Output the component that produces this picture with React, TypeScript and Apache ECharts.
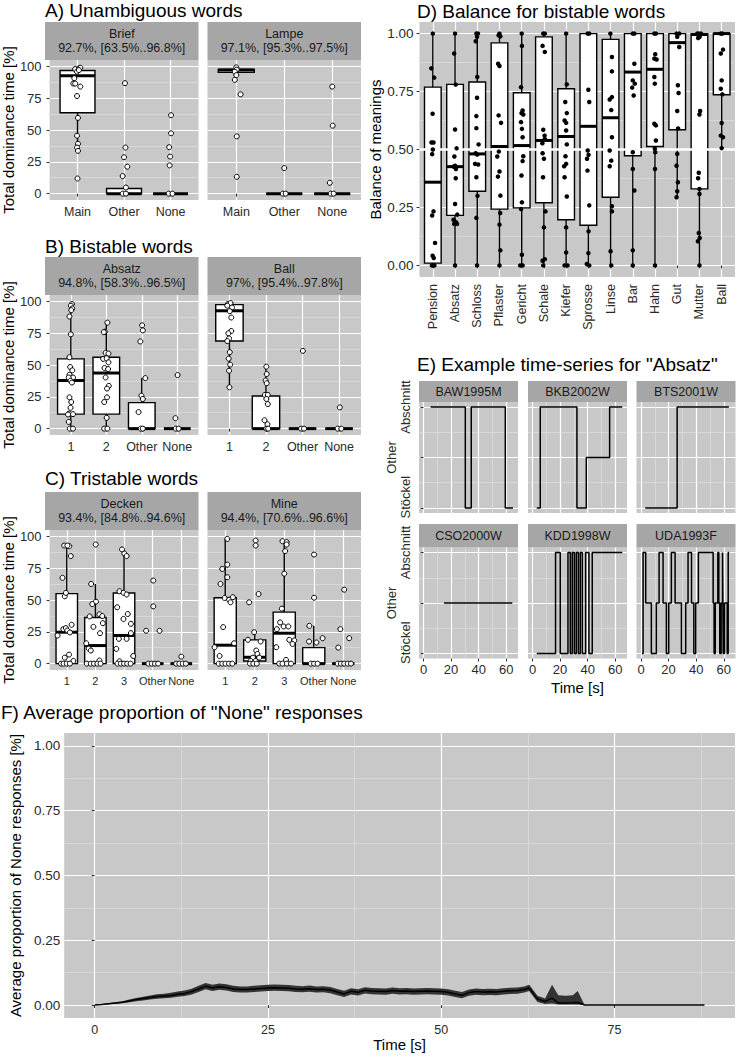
import React, { useEffect, useRef } from 'react';
import * as echarts from 'echarts';

const FONT = "'Liberation Sans', Arial, Helvetica, sans-serif";
const PANEL_BG = '#C8C8C8';
const STRIP_BG = '#A6A6A6';
const MAJOR = '#FFFFFF';
const MINOR = '#DCDCDC';
const TICK_TXT = '#2A2A2A';

// ---------------- Panel A: unambiguous words ----------------
const aCats = ['Main', 'Other', 'None'];
const briefStrip = ['Brief', '92.7%, [63.5%..96.8%]'];
const lampeStrip = ['Lampe', '97.1%, [95.3%..97.5%]'];
// [category, min, q1, median, q3, max]
const briefBoxes = [[1, 33.6, 63.5, 92.7, 96.8, 98.9], [2, 0, 0, 0, 4, 4.8], [3, 0, 0, 0, 0, 0]];
const briefPoints = [[0.95, 97.9], [1.03, 98.4], [1.06, 98.9], [0.99, 95.8], [1.03, 97.1], [0.93, 90.7], [0.91, 86.5], [0.95, 86.5], [1.06, 84.1], [0.99, 76.7], [1.01, 59.5], [0.99, 45.5], [1.01, 39.2], [0.99, 36.2], [1.01, 33.6], [1.0, 11.9],
  [2.02, 86.8], [2.03, 36.2], [2.0, 28.6], [2.07, 21.2], [1.97, 13.8], [2.04, 4.8], [1.97, 0], [2.04, 0],
  [3.01, 61.6], [3.01, 47.4], [2.97, 36.5], [2.99, 29.1], [2.98, 22.2], [2.96, 0], [3.04, 0]];
const lampeBoxes = [[1, 93.1, 95.3, 97.1, 97.5, 99.2], [2, 0, 0, 0, 0, 0], [3, 0, 0, 0, 0, 0]];
const lampePoints = [[1.0, 99.2], [1.01, 97.4], [0.97, 95.8], [1.0, 93.1], [0.97, 89.4], [1.09, 78], [1.01, 45], [1.01, 13.2],
  [2.0, 20.1], [1.97, 0], [2.03, 0],
  [3.0, 84.1], [3.01, 53.4], [2.95, 8.5], [2.97, 0], [3.03, 0]];

// ---------------- Panel B: bistable words ----------------
const bCats = ['1', '2', 'Other', 'None'];
const absatzStrip = ['Absatz', '94.8%, [58.3%..96.5%]'];
const ballStrip = ['Ball', '97%, [95.4%..97.8%]'];
const absatzBoxes = [[1, 0, 11.4, 37.8, 54.8, 97.9], [2, 0, 11.4, 43.7, 56.1, 83.3], [3, 0, 0, 0, 20.4, 39.7], [4, 0, 0, 0, 0, 0]];
const absatzPoints = [[1.03, 97.9], [1.0, 96.6], [1.04, 94.4], [1.01, 93.1], [0.96, 88.1], [1.0, 74.1], [0.96, 56.1], [0.98, 48.4], [1.04, 45.8], [0.96, 42.3], [1.06, 40.2], [0.94, 40.2], [0.99, 37.6], [1.03, 36.2], [0.96, 24.6], [1.01, 20.9], [0.99, 16.4], [0.95, 11.9], [1.06, 11.4], [0.92, 11.1], [0.94, 5.3], [0.97, 0], [1.06, 0],
  [2.03, 83.3], [1.96, 76.2], [1.93, 75.8], [1.98, 59.5], [2.06, 59], [1.91, 54.8], [2.01, 55.3], [2.06, 52.1], [1.95, 47.6], [2.05, 46.8], [1.98, 40.2], [2.07, 33.6], [2.02, 31.5], [2.02, 24.6], [1.94, 20.9], [2.01, 8.5], [1.94, 0], [2.03, 0],
  [3.01, 81.2], [3.03, 77.2], [2.96, 68.5], [3.1, 39.7], [2.99, 25.9], [3.03, 23.3], [2.91, 13], [2.97, 0], [3.03, 0],
  [4.01, 42.1], [3.95, 8.2], [3.96, 0], [4.04, 0]];
const ballBoxes = [[1, 32.5, 68.8, 92.6, 97.4, 98.7], [2, 0, 0, 0, 25.7, 48.7], [3, 0, 0, 0, 0, 0], [4, 0, 0, 0, 0, 0]];
const ballPoints = [[0.96, 97.9], [1.03, 98.7], [0.94, 96.6], [1.07, 95.2], [1.01, 92.3], [1.05, 87.3], [1.05, 76.7], [0.97, 74.9], [0.99, 70.9], [0.94, 68.8], [1.01, 60.1], [0.98, 55], [1.02, 50.3], [0.99, 45.5], [1.0, 32.5],
  [2.01, 48.7], [2.02, 42.9], [1.99, 37.8], [2.02, 35.7], [1.97, 26.5], [2.05, 26.5], [2.01, 23.3], [2.05, 19.3], [1.96, 6.6], [2.04, 3.4], [2.01, 0], [2.06, 0],
  [3.01, 61.1], [2.96, 0], [3.04, 0],
  [4.02, 16.7], [3.96, 0], [4.06, 0]];

// ---------------- Panel C: tristable words ----------------
const cCats = ['1', '2', '3', 'Other', 'None'];
const deckenStrip = ['Decken', '93.4%, [84.8%..94.6%]'];
const mineStrip = ['Mine', '94.4%, [70.6%..96.6%]'];
const deckenBoxes = [[1, 0, 0, 24.7, 55, 92.8], [2, 0, 0, 14.2, 36.3, 62.6], [3, 0, 0, 22.1, 55.5, 89.7], [4, 0, 0, 0, 0, 0], [5, 0, 0, 0, 0, 0]];
const deckenPoints = [[0.91, 92.8], [1.09, 92.3], [1.02, 92.8], [1.14, 84.5], [0.85, 67.4], [0.93, 52.9], [0.97, 55.6], [0.68, 22.1], [0.88, 27.1], [0.97, 27.9], [1.02, 26], [1.11, 24.5], [1.17, 30.5], [0.93, 4.7], [1.08, 7.1], [1.23, 2.1], [0.8, 0], [0.89, 0], [1.0, 0], [1.11, 0],
  [2.01, 93.6], [1.85, 62.6], [2.02, 48.7], [1.89, 46.8], [1.8, 37.1], [2.14, 38.7], [2.24, 37.4], [2.26, 31.8], [1.93, 28.9], [2.16, 23.9], [1.68, 16], [1.77, 11.8], [1.84, 10.3], [2.14, 2.4], [1.7, 0], [1.84, 0], [1.95, 0], [2.07, 0], [2.18, 0],
  [2.93, 89.7], [3.01, 86.5], [3.09, 84.5], [2.84, 56.9], [2.98, 55.6], [3.09, 54.3], [2.76, 44.3], [3.13, 39], [2.98, 35.1], [3.24, 31.3], [2.73, 11.6], [2.82, 19.5], [3.09, 19.5], [3.24, 24], [3.32, 6], [2.84, 1.8], [2.77, 0], [2.89, 0], [3.0, 0], [3.11, 0], [3.23, 0],
  [4.02, 65.3], [4.02, 45], [3.77, 25.8], [4.24, 25.8], [3.85, 0], [3.97, 0], [4.08, 0], [4.19, 0],
  [5.0, 5.5], [4.82, 0], [4.93, 0], [5.05, 0], [5.16, 0]];
const mineBoxes = [[1, 0, 0, 14.5, 51.8, 98], [2, 0, 2.1, 5, 18.7, 24.7], [3, 0, 0, 23.9, 40.5, 96.2], [4, 0, 0, 0, 12.6, 29.7], [5, 0, 0, 0, 0, 0]];
const minePoints = [[1.07, 98], [1.07, 77.8], [0.9, 74.4], [1.07, 67.9], [0.84, 62.6], [1.13, 50.3], [1.18, 48.2], [1.26, 52.2], [0.98, 51.6], [0.93, 28.7], [0.64, 12.9], [1.3, 16], [0.81, 6], [0.78, 0], [0.9, 0], [1.01, 0], [1.13, 0], [1.24, 0],
  [2.03, 96.7], [2.03, 92.8], [2.13, 54.7], [1.81, 48.2], [1.98, 24.7], [1.77, 18.7], [2.2, 17.4], [2.05, 10.3], [2.09, 7.6], [1.94, 4.7], [2.15, 4.7], [1.86, 2.1], [2.03, 2.1], [1.84, 0], [1.95, 0], [2.07, 0],
  [2.94, 96.2], [3.08, 95.5], [3.08, 93.6], [3.03, 88.4], [3.0, 70.7], [2.92, 43.2], [2.86, 32.4], [2.75, 27.1], [2.98, 29.2], [3.14, 29.2], [3.17, 18.7], [3.34, 18.2], [3.28, 15.5], [2.73, 12.9], [3.06, 2.9], [2.83, 0], [2.94, 0], [3.09, 0], [3.23, 0],
  [4.01, 85.7], [4.01, 51.8], [3.85, 29.7], [3.84, 17.4], [4.09, 16.6], [4.3, 20], [3.9, 0], [4.01, 0], [4.13, 0],
  [5.03, 58.1], [4.9, 27.1], [5.2, 20], [4.83, 12.6], [4.81, 0], [4.92, 0], [5.03, 0], [5.15, 0], [5.26, 0]];

// ---------------- Panel D: balance for bistable words ----------------
const dCats = ['Pension', 'Absatz', 'Schloss', 'Pflaster', 'Gericht', 'Schale', 'Kiefer', 'Sprosse', 'Linse', 'Bar', 'Hahn', 'Gut', 'Mutter', 'Ball'];
const dBoxes = [[1, 0, 0.01, 0.359, 0.769, 1], [2, 0, 0.216, 0.426, 0.781, 1], [3, 0, 0.32, 0.481, 0.791, 1], [4, 0, 0.243, 0.513, 0.96, 1], [5, 0, 0.248, 0.517, 0.745, 1], [6, 0, 0.27, 0.539, 0.986, 1], [7, 0, 0.197, 0.556, 0.762, 1], [8, 0, 0.173, 0.6, 1, 1], [9, 0, 0.294, 0.637, 0.975, 1], [10, 0, 0.473, 0.834, 1, 1], [11, 0, 0.513, 0.846, 1, 1], [12, 0.294, 0.585, 0.961, 1, 1], [13, 0, 0.33, 0.996, 1, 1], [14, 0.506, 0.736, 1, 1, 1]];
const dPoints = [
  [1.0, 1], [0.93, 0.85], [1.06, 0.81], [0.99, 0.654], [0.94, 0.53], [1.03, 0.53], [1.0, 0.5], [0.97, 0.48], [1.03, 0.233], [0.97, 0.215], [1.1, 0.097], [0.99, 0.042], [1.04, 0.032], [0.96, 0], [1.07, 0], [1.01, 0],
  [2.0, 1], [1.96, 0.914], [2.03, 0.78], [2.0, 0.586], [2.07, 0.505], [1.97, 0.47], [2.0, 0.43], [1.93, 0.426], [2.04, 0.416], [2.03, 0.376], [2.0, 0.265], [2.1, 0.219], [1.93, 0.197], [2.04, 0.186], [1.96, 0.179], [2.09, 0.179], [2.0, 0],
  [2.96, 1], [3.03, 1], [2.99, 0.986], [2.93, 0.967], [3.0, 0.813], [2.99, 0.723], [2.96, 0.644], [2.96, 0.592], [3.06, 0.522], [2.93, 0.484], [3.0, 0.478], [2.9, 0.438], [3.04, 0.435], [2.96, 0.38], [3.01, 0.3], [2.96, 0.205], [2.99, 0],
  [4.0, 1], [3.96, 0.993], [4.04, 0.988], [3.94, 0.87], [4.0, 0.86], [3.96, 0.647], [4.07, 0.615], [3.97, 0.491], [3.9, 0.47], [4.0, 0.405], [3.93, 0.383], [4.04, 0.301], [4.03, 0.226], [4.0, 0.176], [4.04, 0.065], [4.0, 0],
  [5.0, 1], [5.01, 0.947], [4.97, 0.769], [5.04, 0.668], [4.99, 0.657], [5.07, 0.651], [4.97, 0.618], [5.01, 0.589], [5.04, 0.553], [5.07, 0.471], [5.04, 0.45], [4.99, 0.388], [5.01, 0.272], [4.97, 0.243], [5.01, 0.046], [4.93, 0], [5.04, 0],
  [5.97, 1], [6.04, 1], [5.94, 0.947], [6.04, 0.921], [5.97, 0.585], [6.03, 0.56], [6.04, 0.546], [5.93, 0.527], [5.94, 0.484], [6.0, 0.46], [5.96, 0.38], [6.07, 0.233], [6.0, 0.164], [6.04, 0.027], [5.94, 0.02], [5.97, 0],
  [7.0, 1], [7.03, 0.781], [6.96, 0.705], [7.03, 0.657], [6.93, 0.625], [7.0, 0.615], [7.0, 0.582], [7.03, 0.522], [6.97, 0.471], [7.0, 0.438], [6.91, 0.428], [6.93, 0.38], [7.03, 0.297], [7.0, 0.164], [7.0, 0.056], [6.93, 0], [7.06, 0],
  [7.97, 1], [8.04, 1], [8.0, 0.758], [8.04, 0.705], [7.97, 0.496], [8.01, 0.477], [7.94, 0.46], [7.96, 0.409], [8.04, 0.259], [8.01, 0.147], [8.0, 0.053], [7.93, 0.006], [8.04, 0],
  [8.99, 1], [9.06, 0.899], [9.06, 0.837], [8.96, 0.716], [9.06, 0.726], [9.03, 0.67], [9.06, 0.553], [8.96, 0.496], [9.03, 0.452], [8.96, 0.428], [9.06, 0.255], [9.06, 0.233], [9.0, 0.061], [9.03, 0],
  [10.0, 1], [10.07, 1], [10.07, 0.87], [10.0, 0.798], [10.09, 0.784], [9.97, 0.767], [10.04, 0.733], [10.0, 0.488], [10.0, 0.416], [10.07, 0.323], [10.0, 0.065], [10.0, 0],
  [10.97, 1], [11.04, 1], [11.01, 0.911], [10.97, 0.892], [11.07, 0.888], [10.97, 0.813], [10.99, 0.784], [10.97, 0.611], [11.04, 0.604], [11.04, 0.539], [10.99, 0.503], [11.01, 0.488], [11.0, 0.416], [11.0, 0],
  [11.97, 1], [12.09, 1], [12.0, 0.986], [12.09, 0.942], [12.03, 0.777], [12.06, 0.744], [12.0, 0.666], [12.04, 0.591], [12.0, 0.481], [11.97, 0.43], [12.03, 0.359], [12.0, 0.32], [11.97, 0.294],
  [12.9, 1], [12.97, 1], [13.07, 1], [13.01, 0.986], [12.94, 0.981], [13.03, 0.666], [13.0, 0.651], [12.97, 0.4], [12.94, 0.376], [13.0, 0.33], [13.0, 0.308], [12.97, 0.14], [13.01, 0.118], [12.93, 0.104], [13.0, 0],
  [13.96, 1], [14.03, 1], [14.06, 0.931], [13.96, 0.914], [14.0, 0.798], [13.96, 0.762], [14.03, 0.738], [14.0, 0.614], [13.96, 0.56], [14.06, 0.553], [14.0, 0.506]];
const dReference = 0.5;

// ---------------- Panel E: example time series ----------------
const eLevels = ['Stöckel', 'Other', 'Abschnitt'];
const eNames = ['BAW1995M', 'BKB2002W', 'BTS2001W', 'CSO2000W', 'KDD1998W', 'UDA1993F'];
// [time of state onset (s), state level]; last entry marks end of recording
const eBAW = [[5.1, 3], [30.3, 1], [34.6, 3], [59.3, 1], [64.9, 1]];
const eBKB = [[3.1, 1], [5.6, 3], [32.2, 1], [39, 2], [55.9, 3], [65.1, 3]];
const eBTS = [[3.1, 1], [26.2, 3], [63.7, 3]];
const eCSO = [[14.8, 2], [64.4, 2]];
const eKDD = [[3.1, 1], [16.7, 3], [20.1, 1], [25.7, 3], [27.4, 1], [28.8, 3], [30.3, 1], [31.7, 3], [33.2, 1], [34.6, 3], [36.1, 1], [38.5, 3], [40.9, 1], [43.3, 3], [65.1, 3]];
const eUDA = [[0.7, 1], [1.5, 3], [3.4, 2], [7.5, 1], [11.1, 2], [13.1, 3], [16, 2], [18.4, 1], [20.1, 2], [22, 3], [24.7, 2], [29.3, 1], [32.4, 2], [34.1, 3], [36.6, 2], [38.3, 1], [39.7, 2], [41.6, 3], [52.3, 2], [53, 1], [53.8, 2], [55.7, 3], [56.4, 2], [57.1, 1], [58.1, 2], [59.1, 3], [59.6, 1], [60.5, 2], [62.5, 1], [63.2, 3], [63.9, 3]];
const eSeries = [eBAW, eBKB, eBTS, eCSO, eKDD, eUDA];

// ---------------- Panel F: average proportion of None ----------------
const fTime = [0, 1, 2, 3, 4, 5, 6, 7, 8, 9, 10, 11, 12, 13, 14, 15, 16, 17, 18, 19, 20, 21, 22, 23, 24, 25, 26, 27, 28, 29, 30, 31, 32, 33, 34, 35, 36, 37, 38, 39, 40, 41, 42, 43, 44, 45, 46, 47, 48, 49, 50, 51, 52, 53, 54, 55, 56, 57, 58, 59, 60, 61, 62, 62.7, 63.9, 65, 66, 66.9, 68, 69, 69.7, 70.7, 88];
const fMean = [0, 0.002, 0.005, 0.008, 0.011, 0.016, 0.021, 0.025, 0.029, 0.033, 0.035, 0.037, 0.042, 0.045, 0.052, 0.062, 0.073, 0.066, 0.071, 0.068, 0.062, 0.06, 0.06, 0.062, 0.064, 0.066, 0.067, 0.066, 0.065, 0.062, 0.061, 0.063, 0.06, 0.061, 0.058, 0.05, 0.043, 0.053, 0.049, 0.057, 0.054, 0.053, 0.052, 0.056, 0.053, 0.054, 0.052, 0.053, 0.054, 0.053, 0.052, 0.049, 0.043, 0.038, 0.048, 0.052, 0.05, 0.051, 0.05, 0.053, 0.055, 0.056, 0.06, 0.066, 0.023, 0.014, 0.027, 0.008, 0.008, 0.009, 0.01, 0, 0];
const fLow = [0, 0.001, 0.003, 0.005, 0.007, 0.011, 0.015, 0.018, 0.021, 0.024, 0.026, 0.028, 0.032, 0.035, 0.041, 0.05, 0.061, 0.054, 0.059, 0.056, 0.05, 0.048, 0.048, 0.05, 0.052, 0.054, 0.055, 0.054, 0.053, 0.05, 0.049, 0.051, 0.048, 0.049, 0.046, 0.038, 0.031, 0.041, 0.037, 0.045, 0.042, 0.041, 0.04, 0.044, 0.041, 0.042, 0.04, 0.041, 0.042, 0.041, 0.04, 0.037, 0.031, 0.026, 0.036, 0.04, 0.038, 0.039, 0.038, 0.041, 0.043, 0.044, 0.048, 0.054, 0.012, 0.004, 0.006, 0.002, 0.002, 0.002, 0.002, 0, 0];
const fHigh = [0, 0.003, 0.007, 0.011, 0.015, 0.021, 0.027, 0.032, 0.037, 0.042, 0.044, 0.047, 0.052, 0.056, 0.063, 0.074, 0.085, 0.078, 0.083, 0.08, 0.074, 0.072, 0.072, 0.074, 0.076, 0.078, 0.079, 0.078, 0.077, 0.074, 0.073, 0.075, 0.072, 0.073, 0.07, 0.062, 0.055, 0.065, 0.061, 0.069, 0.066, 0.065, 0.064, 0.068, 0.065, 0.066, 0.064, 0.065, 0.066, 0.065, 0.064, 0.061, 0.055, 0.05, 0.06, 0.064, 0.062, 0.063, 0.062, 0.065, 0.067, 0.068, 0.072, 0.078, 0.036, 0.025, 0.078, 0.038, 0.036, 0.038, 0.054, 0, 0];

function buildOption() {
  const grid: any[] = [];
  const xAxis: any[] = [];
  const yAxis: any[] = [];
  const series: any[] = [];
  const graphic: any[] = [];

  const addGrid = (left: number, top: number, width: number, height: number) => {
    grid.push({ left, top, width, height, show: true, backgroundColor: PANEL_BG, borderWidth: 0 });
    return grid.length - 1;
  };

  const addAxis = (arr: any[], gi: number, min: number, max: number, vals: number[], o: any = {}) => {
    arr.push({
      type: 'value', gridIndex: gi, min, max, position: o.position,
      name: o.name, nameLocation: 'middle', nameGap: o.nameGap,
      nameTextStyle: { fontFamily: FONT, fontSize: 15, color: '#000' },
      axisLine: { show: false },
      axisTick: { show: !!o.ticks, customValues: vals, length: 3, lineStyle: { color: '#333', width: 1 } },
      axisLabel: {
        show: !!o.labels, customValues: vals, formatter: o.fmt, rotate: o.rotate || 0,
        showMinLabel: true, showMaxLabel: true, hideOverlap: false,
        margin: o.margin ?? 5, fontFamily: FONT, fontSize: o.fontSize || 12.5, color: TICK_TXT,
        lineHeight: o.lineHeight,
      },
      splitLine: { show: true, lineStyle: { color: o.minor ? MINOR : MAJOR, width: o.minor ? 0.8 : 1.2 } },
    });
    return arr.length - 1;
  };

  const addStrip = (left: number, top: number, width: number, height: number, lines: string[]) => {
    graphic.push({ type: 'rect', silent: true, shape: { x: left, y: top, width, height }, style: { fill: STRIP_BG } });
    graphic.push({
      type: 'text', silent: true, x: left + width / 2, y: top + height / 2,
      style: {
        text: lines.join('\n'), fill: '#1A1A1A', fontFamily: FONT, fontSize: 12.5, lineHeight: 14.5,
        align: 'center', verticalAlign: 'middle', textAlign: 'center', textVerticalAlign: 'middle',
      },
    });
  };

  const addTitle = (x: number, y: number, text: string) => {
    graphic.push({
      type: 'text', silent: true, x, y,
      style: { text, fill: '#000', fontFamily: FONT, fontSize: 19, align: 'left', verticalAlign: 'middle', textAlign: 'left', textVerticalAlign: 'middle' },
    });
  };

  const boxSeries = (xi: number, yi: number, data: number[][], width: number) => ({
    type: 'custom', xAxisIndex: xi, yAxisIndex: yi, data, z: 2, silent: true,
    encode: { x: 0, y: [1, 2, 3, 4, 5] },
    renderItem: (params: any, api: any) => {
      const x = api.value(0);
      const pMin = api.coord([x, api.value(1)]);
      const pQ1 = api.coord([x, api.value(2)]);
      const pMd = api.coord([x, api.value(3)]);
      const pQ3 = api.coord([x, api.value(4)]);
      const pMax = api.coord([x, api.value(5)]);
      const hw = api.size([width / 2, 0])[0];
      return {
        type: 'group',
        children: [
          { type: 'line', shape: { x1: pMin[0], y1: pMin[1], x2: pMax[0], y2: pMax[1] }, style: { stroke: '#000', lineWidth: 1.4 } },
          { type: 'rect', shape: { x: pQ1[0] - hw, y: pQ3[1], width: 2 * hw, height: pQ1[1] - pQ3[1] }, style: { fill: '#fff', stroke: '#000', lineWidth: 1.4 } },
          { type: 'line', shape: { x1: pMd[0] - hw, y1: pMd[1], x2: pMd[0] + hw, y2: pMd[1] }, style: { stroke: '#000', lineWidth: 3 } },
        ],
      };
    },
  });

  const hollowPoints = (xi: number, yi: number, data: number[][]) => ({
    type: 'scatter', xAxisIndex: xi, yAxisIndex: yi, data, z: 4, silent: true,
    symbol: 'circle', symbolSize: 5,
    itemStyle: { color: '#fff', borderColor: '#000', borderWidth: 1, opacity: 1 },
  });

  // ---- titles
  addTitle(45, 10, 'A) Unambiguous words');
  addTitle(45, 246.5, 'B) Bistable words');
  addTitle(45, 478, 'C) Tristable words');
  addTitle(417, 11, 'D) Balance for bistable words');
  addTitle(417, 364, 'E) Example time-series for "Absatz"');
  addTitle(1, 712, 'F) Average proportion of "None" responses');

  // ---- A, B, C facets
  const rows = [
    { top: 60, cats: aCats, xFont: 12.5, facets: [[briefStrip, briefBoxes, briefPoints], [lampeStrip, lampeBoxes, lampePoints]] },
    { top: 295, cats: bCats, xFont: 12.5, facets: [[absatzStrip, absatzBoxes, absatzPoints], [ballStrip, ballBoxes, ballPoints]] },
    { top: 530, cats: cCats, xFont: 11, facets: [[deckenStrip, deckenBoxes, deckenPoints], [mineStrip, mineBoxes, minePoints]] },
  ];
  const facetLeft = [45, 207.5];
  const facetWidth = 153.5;
  rows.forEach((row) => {
    row.facets.forEach((f: any, c: number) => {
      const left = facetLeft[c];
      const gi = addGrid(left, row.top, facetWidth, 140);
      addStrip(left, row.top - 38, facetWidth, 38, f[0]);
      const n = row.cats.length;
      const catVals = row.cats.map((_: string, i: number) => i + 1);
      const xi = addAxis(xAxis, gi, 0.4, n + 0.6, catVals, {
        labels: true, ticks: true, margin: 5, position: 'bottom', fontSize: row.xFont,
        fmt: (v: number) => row.cats[Math.round(v) - 1],
      });
      const yi = addAxis(yAxis, gi, -5, 105, [0, 25, 50, 75, 100], {
        labels: c === 0, ticks: c === 0, margin: 8, fontSize: 13, position: 'left',
        name: c === 0 ? 'Total dominance time [%]' : undefined, nameGap: 27,
      });
      addAxis(yAxis, gi, -5, 105, [12.5, 37.5, 62.5, 87.5], { minor: true, position: 'right' });
      series.push(boxSeries(xi, yi, f[1], 0.75));
      series.push(hollowPoints(xi, yi, f[2]));
    });
  });

  // ---- D
  {
    const gi = addGrid(419.5, 22, 315.5, 255);
    const xi = addAxis(xAxis, gi, 0.4, 14.6, dCats.map((_, i) => i + 1), {
      labels: true, ticks: true, rotate: 90, margin: 7, position: 'bottom', fontSize: 12.5,
      fmt: (v: number) => dCats[Math.round(v) - 1],
    });
    const yi = addAxis(yAxis, gi, -0.05, 1.05, [0, 0.25, 0.5, 0.75, 1], {
      labels: true, ticks: true, margin: 6, fontSize: 13.5, position: 'left',
      fmt: (v: number) => v.toFixed(2), name: 'Balance of meanings', nameGap: 36,
    });
    addAxis(yAxis, gi, -0.05, 1.05, [0.125, 0.375, 0.625, 0.875], { minor: true, position: 'right' });
    series.push(boxSeries(xi, yi, dBoxes, 0.75));
    series.push({
      type: 'line', xAxisIndex: xi, yAxisIndex: yi, z: 3, silent: true, symbol: 'none',
      data: [[0.4, dReference], [14.6, dReference]], lineStyle: { color: '#fff', width: 2.5 },
    });
    series.push({
      type: 'scatter', xAxisIndex: xi, yAxisIndex: yi, data: dPoints, z: 4, silent: true,
      symbol: 'circle', symbolSize: 4.5, itemStyle: { color: '#000', opacity: 1 },
    });
  }

  // ---- E
  const eLeft = [419, 528, 636.5];
  const eTop = [402, 547.5];
  const eStripTop = [381, 524];
  const eLabel = (v: number) => {
    const k = Math.round(v);
    if (k === 2) return eLevels[1] + '\n';
    if (k === 1) return '      ' + eLevels[0];
    return eLevels[2];
  };
  eSeries.forEach((data, i) => {
    const r = Math.floor(i / 3);
    const c = i % 3;
    const gi = addGrid(eLeft[c], eTop[r], 99, 111);
    addStrip(eLeft[c], eStripTop[r], 99, eTop[r] - eStripTop[r], [eNames[i]]);
    const xi = addAxis(xAxis, gi, -3.27, 68.5, [0, 20, 40, 60], {
      labels: r === 1, ticks: r === 1, margin: 4, position: 'bottom', fontSize: 13,
      name: r === 1 && c === 1 ? 'Time [s]' : undefined, nameGap: 21,
    });
    addAxis(xAxis, gi, -3.27, 68.5, [10, 30, 50], { minor: true, position: 'top' });
    const yi = addAxis(yAxis, gi, 0.9, 3.1, [1, 2, 3], {
      labels: c === 0, ticks: c === 0, rotate: 90, margin: 7, fontSize: 13, position: 'left', lineHeight: 14,
      fmt: eLabel,
    });
    addAxis(yAxis, gi, 0.9, 3.1, [1.5, 2.5], { minor: true, position: 'right' });
    series.push({
      type: 'line', xAxisIndex: xi, yAxisIndex: yi, data, step: 'end', z: 3, silent: true,
      symbol: 'none', showSymbol: false, lineStyle: { color: '#000', width: 1.5 },
    });
  });

  // ---- F
  {
    const gi = addGrid(53, 733, 682, 285);
    const xi = addAxis(xAxis, gi, -4.4, 92.4, [0, 25, 50, 75], {
      labels: true, ticks: true, margin: 5, position: 'bottom', fontSize: 12.5,
      name: 'Time [s]', nameGap: 14,
    });
    addAxis(xAxis, gi, -4.4, 92.4, [12.5, 37.5, 62.5, 87.5], { minor: true, position: 'top' });
    const yi = addAxis(yAxis, gi, -0.05, 1.05, [0, 0.25, 0.5, 0.75, 1], {
      labels: true, ticks: true, margin: 4, fontSize: 13.5, position: 'left',
      fmt: (v: number) => v.toFixed(2), name: 'Average proportion of None responses [%]', nameGap: 36,
    });
    addAxis(yAxis, gi, -0.05, 1.05, [0.125, 0.375, 0.625, 0.875], { minor: true, position: 'right' });
    series.push({
      type: 'custom', xAxisIndex: xi, yAxisIndex: yi, data: [[fTime[0], fLow[0]]], z: 2, silent: true,
      encode: { x: 0, y: 1 },
      renderItem: (params: any, api: any) => {
        const upper = fTime.map((t, k) => api.coord([t, fHigh[k]]));
        const lower = fTime.map((t, k) => api.coord([t, fLow[k]])).reverse();
        return { type: 'polygon', shape: { points: upper.concat(lower) }, style: { fill: '#333333' } };
      },
    });
    series.push({
      type: 'line', xAxisIndex: xi, yAxisIndex: yi, z: 3, silent: true, symbol: 'none', showSymbol: false,
      data: fTime.map((t, k) => [t, fMean[k]]), lineStyle: { color: '#000', width: 1.5 },
    });
  }

  return {
    animation: false,
    backgroundColor: '#fff',
    textStyle: { fontFamily: FONT },
    grid, xAxis, yAxis, series, graphic,
  };
}

export default function App() {
  const ref = useRef<HTMLDivElement>(null);
  useEffect(() => {
    document.body.style.margin = '0';
    const chart = echarts.init(ref.current as HTMLDivElement, null, { renderer: 'svg' });
    chart.setOption(buildOption() as any);
    return () => chart.dispose();
  }, []);
  return <div ref={ref} style={{ width: 737, height: 1057 }} />;
}
